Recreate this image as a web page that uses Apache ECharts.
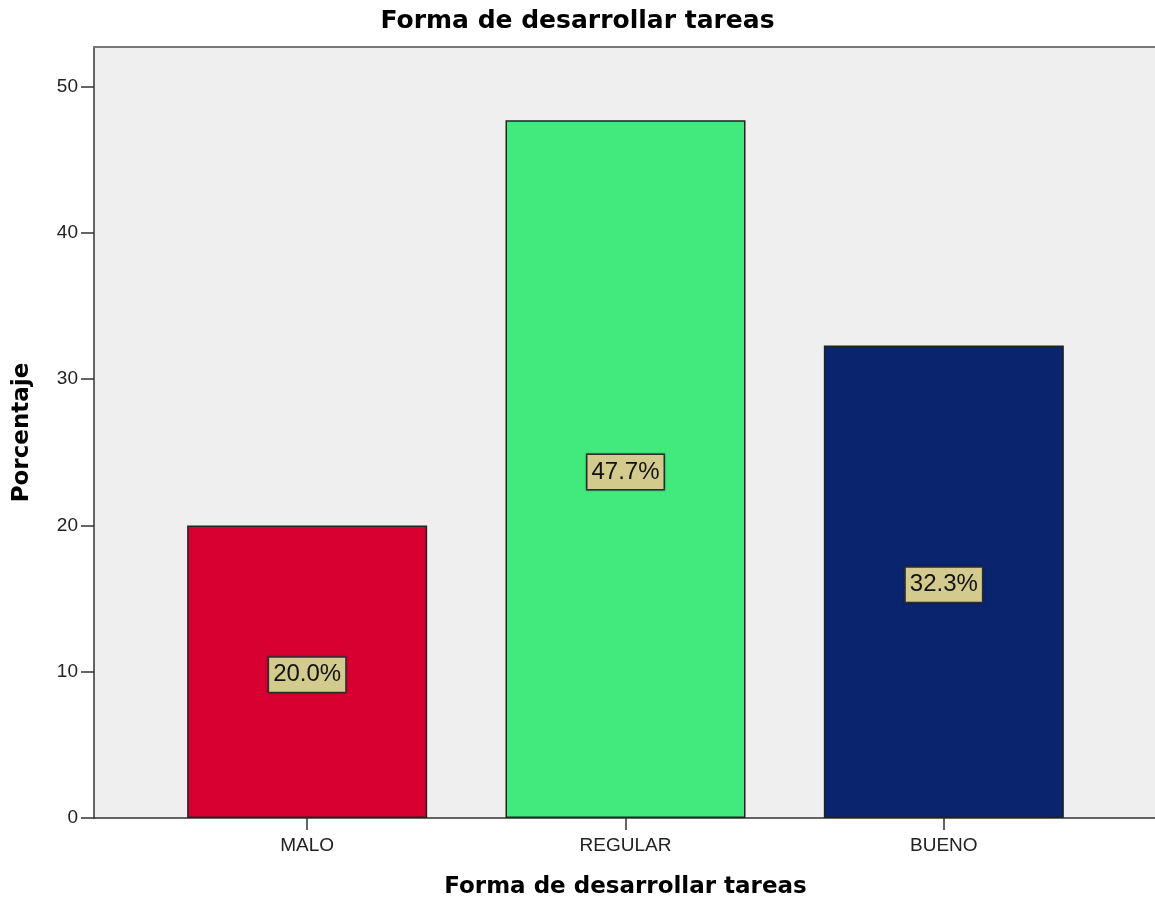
<!DOCTYPE html>
<html>
<head>
<meta charset="utf-8">
<script src="https://cdn.jsdelivr.net/npm/echarts@6/dist/echarts.min.js"></script>
<style>
	html, body { margin: 0; padding: 0; background: #fff; }
	#main { width: 1155px; height: 902px; }
</style>
</head>
<body>
<div id="main"></div>
<script>
var categories = ['MALO', 'REGULAR', 'BUENO'];
var porcentajes = [20.0, 47.7, 32.3];
var barColors = ['#d70030', '#42ea7e', '#0a246e'];
var yTicks = [0, 10, 20, 30, 40, 50];

var chart = echarts.init(document.getElementById('main'));

var option = {
	backgroundColor: '#ffffff',
	animation: false,
	title: {
		text: 'Forma de desarrollar tareas',
		left: 'center',
		top: 4,
		textStyle: { fontFamily: 'DejaVu Sans', fontWeight: 'bold', fontSize: 25, color: '#000' }
	},
	grid: [
		// fondo y eje Y
		{ left: 94, top: 47, right: 0, bottom: 84, show: true, backgroundColor: '#efefef', borderWidth: 0, outerBoundsMode: 'none', containLabel: false },
		// barras
		{ left: 148, top: 47, right: 52, bottom: 84, outerBoundsMode: 'none', containLabel: false }
	],
	xAxis: [{
		gridIndex: 0,
		type: 'value',
		min: 0, max: 1,
		axisLine: { show: true, lineStyle: { color: '#333', width: 1.5 } },
		axisTick: { show: false },
		axisLabel: { show: false },
		splitLine: { show: false }
	}, {
		gridIndex: 1,
		type: 'category',
		data: categories,
		name: 'Forma de desarrollar tareas',
		nameLocation: 'middle',
		nameGap: 58,
		nameTextStyle: { fontFamily: 'DejaVu Sans', fontWeight: 'bold', fontSize: 23, color: '#000' },
		axisLine: { show: false },
		axisTick: { show: true, alignWithLabel: true, length: 12, lineStyle: { color: '#333', width: 1.5 } },
		axisLabel: { fontFamily: 'Liberation Sans', fontSize: 19, color: '#222', margin: 18 }
	}, {
		// borde superior del área
		gridIndex: 0,
		type: 'value',
		position: 'top',
		min: 0, max: 1,
		axisLine: { show: true, lineStyle: { color: '#777', width: 2 } },
		axisTick: { show: false },
		axisLabel: { show: false },
		splitLine: { show: false }
	}],
	yAxis: [{
		gridIndex: 0,
		type: 'value',
		min: 0,
		max: 52.7,
		interval: 10,
		name: 'Porcentaje',
		nameLocation: 'middle',
		nameGap: 60,
		nameTextStyle: { fontFamily: 'DejaVu Sans', fontWeight: 'bold', fontSize: 23, color: '#000' },
		axisLine: { show: true, lineStyle: { color: '#333', width: 1.5 } },
		axisTick: { show: true, length: 13, customValues: yTicks, lineStyle: { color: '#333', width: 1.5 } },
		axisLabel: {
			fontFamily: 'Liberation Sans', fontSize: 19, color: '#222', margin: 16,
			customValues: yTicks
		},
		splitLine: { show: false }
	}, {
		gridIndex: 1,
		type: 'value',
		min: 0,
		max: 52.7,
		show: false
	}],
	series: [{
		type: 'bar',
		xAxisIndex: 1,
		yAxisIndex: 1,
		barWidth: 240,
		data: porcentajes.map(function (v, i) {
			return { value: v, itemStyle: { color: barColors[i] } };
		}),
		itemStyle: { borderColor: '#222', borderWidth: 1.5 },
		label: {
			show: true,
			position: 'inside',
			offset: [0, 3],
			formatter: function (p) { return p.value.toFixed(1) + '%'; },
			fontFamily: 'Liberation Sans',
			fontSize: 24,
			color: '#111',
			backgroundColor: '#d3ca8e',
			borderColor: '#333',
			borderWidth: 1.5,
			padding: [6, 4, 4, 4],
			shadowColor: 'rgba(0,0,0,0.4)',
			shadowBlur: 2
		}
	}]
};

chart.setOption(option);
</script>
</body>
</html>
